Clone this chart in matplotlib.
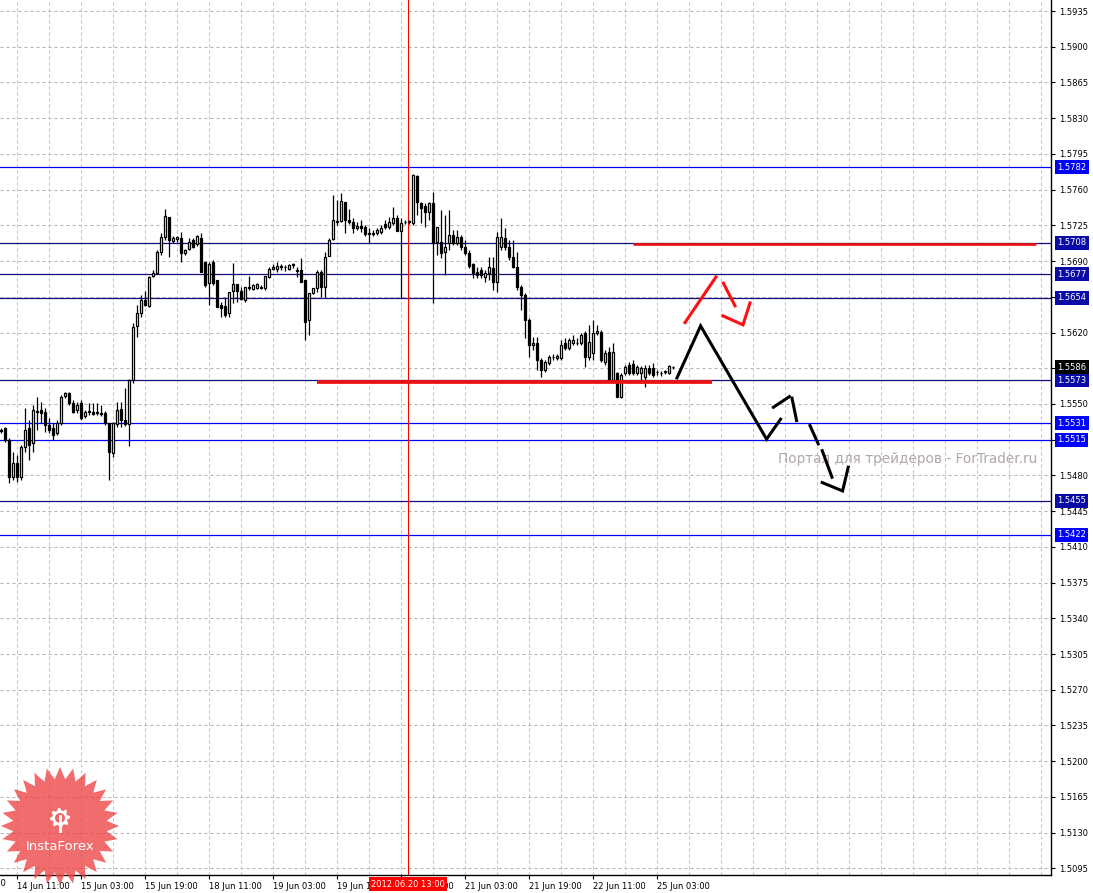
import numpy as np
import matplotlib
matplotlib.use("Agg")
import matplotlib.pyplot as plt
from matplotlib.patches import Polygon

# ---------------- data (GBPUSD H1) ----------------
opens = [1.55246, 1.55266, 1.55148, 1.54785, 1.54923, 1.54785, 1.55079, 1.55266, 1.55119, 1.55422,
         1.55442, 1.55422, 1.55295, 1.55266, 1.55217, 1.55315, 1.55579, 1.55609, 1.55511, 1.55442,
         1.55511, 1.55383, 1.55432, 1.55422, 1.55422, 1.55413, 1.55413, 1.55315, 1.55021, 1.55305,
         1.55452, 1.55344, 1.55305, 1.55736, 1.56265, 1.56393, 1.56520, 1.56461, 1.56755, 1.56785,
         1.56990, 1.57137, 1.57333, 1.57098, 1.57118, 1.57128, 1.56981, 1.57020, 1.57108, 1.57069,
         1.57128, 1.56892, 1.56687, 1.56892, 1.56716, 1.56471, 1.56461, 1.56393, 1.56608, 1.56677,
         1.56608, 1.56520, 1.56647, 1.56628, 1.56638, 1.56647, 1.56638, 1.56745, 1.56824, 1.56824,
         1.56853, 1.56843, 1.56824, 1.56873, 1.56814, 1.56814, 1.56716, 1.56324, 1.56589, 1.56638,
         1.56794, 1.56647, 1.56951, 1.57118, 1.57294, 1.57294, 1.57480, 1.57304, 1.57284, 1.57226,
         1.57245, 1.57235, 1.57177, 1.57177, 1.57177, 1.57186, 1.57265, 1.57235, 1.57275, 1.57324,
         1.57196, 1.57284, 1.57284, 1.57275, 1.57735, 1.57471, 1.57441, 1.57382, 1.57471, 1.57088,
         1.57088, 1.56990, 1.57079, 1.57157, 1.57079, 1.57137, 1.57039, 1.56981, 1.56873, 1.56794,
         1.56814, 1.56745, 1.56785, 1.56834, 1.56696, 1.57040, 1.57128, 1.57039, 1.56941, 1.56843,
         1.56647, 1.56569, 1.56324, 1.56079, 1.56099, 1.55932, 1.55834, 1.55903, 1.55961, 1.55952,
         1.55952, 1.56099, 1.56050, 1.56099, 1.56099, 1.56099, 1.56197, 1.55961, 1.56001, 1.56197,
         1.56206, 1.55912, 1.56011, 1.55736, 1.55805, 1.55569, 1.55805, 1.55883, 1.55893, 1.55805,
         1.55805, 1.55765, 1.55854, 1.55854, 1.55814, 1.55805, 1.55814, 1.55805, 1.55863]
highs = [1.55266, 1.55275, 1.55168, 1.55030, 1.55001, 1.55099, 1.55462, 1.55344, 1.55491, 1.55569,
         1.55520, 1.55462, 1.55364, 1.55315, 1.55344, 1.55589, 1.55618, 1.55618, 1.55540, 1.55520,
         1.55540, 1.55442, 1.55511, 1.55511, 1.55511, 1.55491, 1.55432, 1.55315, 1.55324, 1.55520,
         1.55520, 1.55658, 1.55746, 1.56295, 1.56471, 1.56569, 1.56608, 1.56755, 1.56814, 1.57010,
         1.57177, 1.57412, 1.57333, 1.57147, 1.57147, 1.57186, 1.57020, 1.57128, 1.57128, 1.57157,
         1.57177, 1.56892, 1.56892, 1.56912, 1.56716, 1.56500, 1.56551, 1.56598, 1.56883, 1.56677,
         1.56647, 1.56647, 1.56755, 1.56677, 1.56687, 1.56667, 1.56755, 1.56843, 1.56873, 1.56892,
         1.56873, 1.56863, 1.56873, 1.56883, 1.56843, 1.56932, 1.56716, 1.56589, 1.56638, 1.56814,
         1.56814, 1.56990, 1.57128, 1.57549, 1.57500, 1.57569, 1.57480, 1.57412, 1.57324, 1.57284,
         1.57304, 1.57255, 1.57226, 1.57206, 1.57226, 1.57255, 1.57304, 1.57333, 1.57431, 1.57353,
         1.57324, 1.57304, 1.57304, 1.57755, 1.57745, 1.57480, 1.57471, 1.57480, 1.57578, 1.57235,
         1.57402, 1.57353, 1.57402, 1.57206, 1.57206, 1.57157, 1.57108, 1.57010, 1.56883, 1.56843,
         1.56843, 1.56814, 1.56941, 1.56941, 1.57186, 1.57324, 1.57226, 1.57108, 1.57108, 1.56990,
         1.56667, 1.56589, 1.56344, 1.56157, 1.56157, 1.55952, 1.55932, 1.55981, 1.55991, 1.55991,
         1.56128, 1.56148, 1.56148, 1.56177, 1.56148, 1.56197, 1.56216, 1.56275, 1.56324, 1.56275,
         1.56226, 1.56030, 1.56059, 1.56099, 1.55814, 1.55805, 1.55883, 1.55912, 1.55932, 1.55883,
         1.55873, 1.55883, 1.55883, 1.55903, 1.55834, 1.55824, 1.55834, 1.55883, 1.55873]
lows = [1.55217, 1.55128, 1.54727, 1.54756, 1.54736, 1.54756, 1.55030, 1.54952, 1.55030, 1.55246,
        1.55315, 1.55226, 1.55217, 1.55148, 1.55197, 1.55295, 1.55559, 1.55491, 1.55413, 1.55413,
        1.55344, 1.55364, 1.55393, 1.55393, 1.55393, 1.55383, 1.55295, 1.54756, 1.54981, 1.55275,
        1.55275, 1.55285, 1.55089, 1.55707, 1.56157, 1.56353, 1.56461, 1.56451, 1.56745, 1.56775,
        1.56961, 1.57108, 1.56941, 1.57079, 1.57088, 1.56892, 1.56961, 1.57010, 1.57030, 1.57050,
        1.56794, 1.56647, 1.56471, 1.56667, 1.56451, 1.56353, 1.56353, 1.56353, 1.56491, 1.56500,
        1.56520, 1.56500, 1.56618, 1.56618, 1.56628, 1.56628, 1.56618, 1.56736, 1.56814, 1.56794,
        1.56814, 1.56804, 1.56814, 1.56834, 1.56745, 1.56696, 1.56128, 1.56177, 1.56579, 1.56598,
        1.56549, 1.56549, 1.56951, 1.57108, 1.57255, 1.57284, 1.57177, 1.57265, 1.57177, 1.57206,
        1.57186, 1.57147, 1.57079, 1.57147, 1.57157, 1.57167, 1.57216, 1.57216, 1.57255, 1.57196,
        1.56539, 1.57265, 1.57265, 1.57255, 1.57353, 1.57275, 1.57235, 1.57304, 1.56491, 1.56961,
        1.56932, 1.56765, 1.57010, 1.57059, 1.57059, 1.57010, 1.56961, 1.56834, 1.56736, 1.56736,
        1.56736, 1.56696, 1.56716, 1.56618, 1.56598, 1.57010, 1.57010, 1.56912, 1.56834, 1.56618,
        1.56422, 1.56148, 1.55961, 1.56030, 1.55834, 1.55765, 1.55814, 1.55883, 1.55932, 1.55932,
        1.55932, 1.56030, 1.56030, 1.56079, 1.56079, 1.56079, 1.55863, 1.55932, 1.55932, 1.56177,
        1.55912, 1.55883, 1.55736, 1.55717, 1.55569, 1.55559, 1.55785, 1.55785, 1.55785, 1.55785,
        1.55707, 1.55667, 1.55785, 1.55765, 1.55785, 1.55775, 1.55795, 1.55795, 1.55844]
closes = [1.55236, 1.55148, 1.54785, 1.54923, 1.54785, 1.55079, 1.55246, 1.55099, 1.55442, 1.55432,
          1.55413, 1.55295, 1.55246, 1.55197, 1.55315, 1.55569, 1.55609, 1.55511, 1.55422, 1.55491,
          1.55364, 1.55422, 1.55422, 1.55403, 1.55413, 1.55403, 1.55315, 1.55030, 1.55315, 1.55442,
          1.55344, 1.55305, 1.55736, 1.56255, 1.56393, 1.56520, 1.56471, 1.56745, 1.56785, 1.56990,
          1.57137, 1.57343, 1.57108, 1.57128, 1.57137, 1.56981, 1.57010, 1.57088, 1.57039, 1.57147,
          1.56794, 1.56667, 1.56873, 1.56687, 1.56451, 1.56442, 1.56373, 1.56598, 1.56677, 1.56608,
          1.56530, 1.56647, 1.56638, 1.56667, 1.56677, 1.56638, 1.56755, 1.56824, 1.56843, 1.56853,
          1.56843, 1.56840, 1.56863, 1.56863, 1.56804, 1.56696, 1.56304, 1.56589, 1.56638, 1.56794,
          1.56647, 1.56941, 1.57108, 1.57304, 1.57284, 1.57490, 1.57304, 1.57284, 1.57226, 1.57245,
          1.57226, 1.57167, 1.57170, 1.57167, 1.57206, 1.57226, 1.57235, 1.57284, 1.57324, 1.57196,
          1.57275, 1.57280, 1.57294, 1.57745, 1.57480, 1.57422, 1.57382, 1.57471, 1.57079, 1.57235,
          1.56981, 1.57039, 1.57157, 1.57079, 1.57137, 1.57039, 1.56981, 1.56853, 1.56785, 1.56765,
          1.56765, 1.56785, 1.56843, 1.56696, 1.57138, 1.57138, 1.57039, 1.56941, 1.56843, 1.56647,
          1.56569, 1.56324, 1.56079, 1.56099, 1.55932, 1.55834, 1.55912, 1.55961, 1.55956, 1.55971,
          1.56079, 1.56050, 1.56128, 1.56128, 1.56099, 1.56177, 1.55961, 1.56108, 1.56197, 1.56216,
          1.55932, 1.56001, 1.55736, 1.56011, 1.55569, 1.55785, 1.55863, 1.55805, 1.55805, 1.55863,
          1.55854, 1.55854, 1.55805, 1.55785, 1.55810, 1.55800, 1.55820, 1.55873, 1.55860]

date_labels = ["13 Jun 19:00", "14 Jun 11:00", "15 Jun 03:00", "15 Jun 19:00", "18 Jun 11:00",
               "19 Jun 03:00", "19 Jun 19:00", "20 Jun 11:00", "21 Jun 03:00", "21 Jun 19:00",
               "22 Jun 11:00", "25 Jun 03:00"]
first_label_bar = -12
bars_per_label = 16

level_prices = [1.5782, 1.5708, 1.5677, 1.5654, 1.5573, 1.5531, 1.5515, 1.5455, 1.5422]
level_bright = [True, False, False, False, False, True, True, False, True]
last_price = 1.5586

support_price = 1.5572
support_bars = [79, 177.75]
resist_price = 1.5707
resist_bars = [158, 258.75]

cursor_bar = 101.75
cursor_label = "2012.06.20 13:00"

# forecast drawings: (bar positions, prices)
black_segments = [
    ([169.0, 174.9, 191.4, 194.9], [1.55756, 1.56265, 1.55155, 1.55351]),
    ([193.1, 197.1], [1.55468, 1.55572]),
    ([197.75, 198.9], [1.55557, 1.55337]),
    ([202.25, 204.3], [1.55288, 1.55109]),
    ([205.3, 207.75], [1.55043, 1.54782]),
    ([205.3, 210.4, 211.8], [1.54730, 1.54648, 1.54880]),
]
red_segments = [
    ([171.0, 178.75], [1.56298, 1.56745]),
    ([180.6, 183.5], [1.56684, 1.56461]),
    ([180.5, 185.5, 187.25], [1.56363, 1.56275, 1.56490]),
]

watermark = "Портал для трейдеров - ForTrader.ru"

# ---------------- figure ----------------
W, H = 1093, 893
fig = plt.figure(figsize=(W / 100, H / 100), dpi=100)
fig.patch.set_facecolor("white")
ax = fig.add_axes([0, 18 / H, 1051 / W, 875 / H])
ax.set_facecolor("white")

ymin, ymax = 1.50885, 1.59458
ax.set_ylim(ymin, ymax)
ax.set_xlim(-0.25, 262.5)

# grid
yticks = np.round(np.arange(1.5095, 1.5936, 0.0035), 4)
for yv in yticks:
    ax.axhline(yv, color="#b0b0b0", lw=0.72, ls=(0, (3, 3)), zorder=0.5)
for xv in np.arange(4, 263, 8):
    ax.axvline(xv, color="#cfb0d6", lw=0.72, ls=(0, (3, 3)), zorder=0.5)

# watermark
ax.text(194.2, 1.5496, watermark, color="#b2a8a8", fontsize=9.8, va="center",
        ha="left", zorder=0.8)

# horizontal levels
for p, bright in zip(level_prices, level_bright):
    ax.axhline(p, color="#0000ff" if bright else "#10107e", lw=0.9, zorder=1)

# red cursor line
ax.axvline(cursor_bar, color="#ff0000", lw=0.8, zorder=1.2)

# candles
o = np.array(opens); h = np.array(highs); l = np.array(lows); c = np.array(closes)
idx = np.arange(len(o))
ax.vlines(idx, l, h, color="black", lw=0.9, zorder=2)
bull = c >= o
ax.bar(idx[bull], c[bull] - o[bull], bottom=o[bull], width=0.55, color="white",
       edgecolor="black", linewidth=0.9, zorder=3)
ax.bar(idx[~bull], c[~bull] - o[~bull], bottom=o[~bull], width=0.55, color="black",
       edgecolor="black", linewidth=0.9, zorder=3)

# red horizontal lines
ax.plot(support_bars, [support_price] * 2, color="#ee1111", lw=2.7, zorder=4,
        solid_capstyle="butt")
ax.plot(resist_bars, [resist_price] * 2, color="#ee1111", lw=1.9, zorder=4,
        solid_capstyle="butt")

# forecast zigzags
for xs, ys in black_segments:
    ax.plot(xs, ys, color="black", lw=2.2, zorder=5, solid_joinstyle="miter")
for xs, ys in red_segments:
    ax.plot(xs, ys, color="#ff1010", lw=2.2, zorder=5, solid_joinstyle="miter")

# spines
for s in ["top", "left"]:
    ax.spines[s].set_visible(False)
for s in ["right", "bottom"]:
    ax.spines[s].set_color("black")
    ax.spines[s].set_linewidth(1.0)

# y ticks on right
ax.yaxis.tick_right()
ylabels = []
for v in yticks:
    hidden = any(abs(v - p) < 0.0006 for p in level_prices + [last_price])
    ylabels.append("" if hidden else f"{v:.4f}")
ax.set_yticks(yticks)
ax.set_yticklabels(ylabels)
ax.tick_params(axis="y", length=3, width=0.8, pad=3, labelsize=6, colors="black")

# x ticks
xt = first_label_bar + bars_per_label * np.arange(len(date_labels))
ax.set_xticks(xt[xt >= 0])
ax.set_xticklabels([d for d, x in zip(date_labels, xt) if x >= 0])
for t in ax.get_xticklabels():
    t.set_ha("left")
ax.tick_params(axis="x", length=3, width=0.8, pad=2, labelsize=6, colors="black")
# partially visible first label (cut by the left edge, as in the original)
ax.text(xt[0], -0.005, date_labels[0], transform=ax.get_xaxis_transform(),
        ha="left", va="top", fontsize=6, clip_on=False)

# level price boxes
ytr = ax.get_yaxis_transform()
for p, bright in zip(level_prices, level_bright):
    ax.text(1.0 + 6 / 1051, p, f"{p:.4f}", transform=ytr, ha="left", va="center",
            fontsize=6, color="white", clip_on=False, zorder=10,
            bbox=dict(boxstyle="square,pad=0.3", fc="#0000ff" if bright else "#0a0aa6",
                      ec="none"))
ax.text(1.0 + 6 / 1051, last_price, f"{last_price:.4f}", transform=ytr, ha="left",
        va="center", fontsize=6, color="white", clip_on=False, zorder=10,
        bbox=dict(boxstyle="square,pad=0.3", fc="black", ec="none"))

# cursor date label (covers the neighbouring tick labels, as in the original)
ax.text(cursor_bar, -0.0105, cursor_label, transform=ax.get_xaxis_transform(),
        ha="center", va="center", fontsize=6, color="white", clip_on=False, zorder=10,
        bbox=dict(boxstyle="square,pad=0.3", fc="#ff0000", ec="none"))

# ---------------- InstaForex logo ----------------
def fx(px):
    return px / W

def fy(py):
    return 1 - py / H

cx, cy = 60, 826
n = 28
ang = np.linspace(0, 2 * np.pi, 2 * n, endpoint=False) + np.pi / 2
rad = np.where(np.arange(2 * n) % 2 == 0, 59, 47)
star = np.column_stack([fx(cx + rad * np.cos(ang)), fy(cy - rad * np.sin(ang))])
fig.add_artist(Polygon(star, closed=True, transform=fig.transFigure,
                       fc="#ee4444", ec="none", alpha=0.78, zorder=20))
# gear icon
g = 16
gang = np.linspace(0, 2 * np.pi, 2 * g, endpoint=False)
grad = np.where(np.arange(2 * g) % 4 < 2, 10, 7.5)
gear = np.column_stack([fx(cx + grad * np.cos(gang)), fy(818 - grad * np.sin(gang))])
fig.add_artist(Polygon(gear, closed=True, transform=fig.transFigure,
                       fc="white", ec="none", zorder=21))
fig.add_artist(Polygon(np.column_stack([fx(cx + 5 * np.cos(gang)), fy(818 - 5 * np.sin(gang))]),
                       closed=True, transform=fig.transFigure, fc="#f06464", ec="none", zorder=22))
fig.add_artist(Polygon([[fx(cx - 1.5), fy(815)], [fx(cx + 1.5), fy(815)],
                        [fx(cx + 1.5), fy(833)], [fx(cx - 1.5), fy(833)]],
                       closed=True, transform=fig.transFigure, fc="white", ec="none", zorder=23))
fig.text(fx(cx), fy(846), "InstaForex", color="white", fontsize=9.5, ha="center",
         va="center", zorder=24)

fig.savefig("out.png", dpi=100)
